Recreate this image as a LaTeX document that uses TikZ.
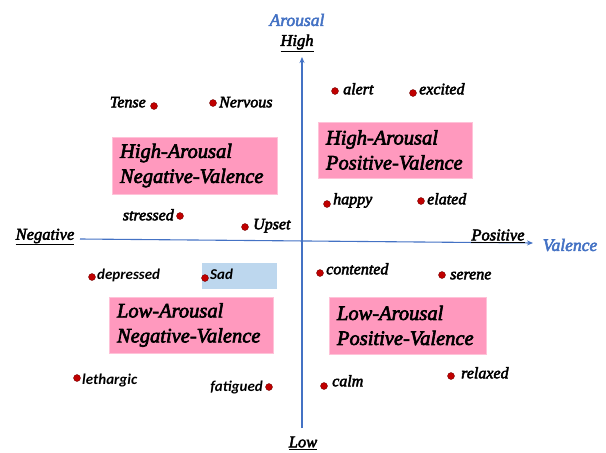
\documentclass[tikz,border=0pt]{standalone}
\usepackage{fontspec}
\setmainfont{Liberation Serif}
\newfontfamily\carlfont{Carlito}
\newcommand\tbishape{\itshape\addfontfeature{FakeBold=3}}
\usetikzlibrary{arrows.meta}
\definecolor{axisblue}{HTML}{4472C4}
\definecolor{quadpink}{RGB}{255,153,190}
\definecolor{sadblue}{HTML}{BDD7EE}
\definecolor{dotred}{HTML}{C00000}
\begin{document}
\begin{tikzpicture}[x=1pt,y=-1pt,
  axis/.style={draw=axisblue, line width=1.1pt, -{Stealth[length=6pt,width=5pt]}},
  emo/.style={circle, fill=dotred, draw=black!60!red, line width=0.3pt, inner sep=0pt, minimum size=7pt},
  lbl/.style={inner sep=0pt, font=\fontsize{16}{18}\selectfont\tbishape},
  lbls/.style={inner sep=0pt, font=\fontsize{15}{17}\selectfont\carlfont\bfseries\itshape},
  axlbl/.style={inner sep=0pt, font=\fontsize{16.5}{18}\selectfont\tbishape},
  axname/.style={inner sep=0pt, text=axisblue, font=\fontsize{17.5}{19}\selectfont\tbishape},
  quad/.style={fill=quadpink, draw=quadpink!60!white, line width=0.6pt, inner xsep=8pt, inner ysep=0pt, align=left,
    font=\fontsize{20.5}{25}\selectfont\tbishape},
]
\useasboundingbox (0,0) rectangle (606,453);

% quadrant boxes
\node[quad, text width=149pt, minimum height=57pt] (hanv) at (194.5,165.5) {High-Arousal\\Negative-Valence};
\node[quad, text width=138pt, minimum height=56pt] (hapv) at (395,150) {High-Arousal\\Positive-Valence};
\node[quad, text width=148pt, minimum height=56pt] (lanv) at (191,325) {Low-Arousal\\Negative-Valence};
\node[quad, text width=141pt, minimum height=57pt] (lapv) at (407.5,325.5) {Low-Arousal\\Positive-Valence};
\node[fill=sadblue, inner sep=0pt, minimum width=75pt, minimum height=26pt] (sadbox) at (239.5,276) {};

% axes
\coordinate (vb) at (302,428);
\coordinate (vt) at (302,57);
\coordinate (hl) at (80,239);
\coordinate (hr) at (533,243);
\draw[axis] (vb) -- (vt);
\draw[axis] (hl) -- (hr);

\node[axname] (arousal) at (297,20) {Arousal};
\node[axlbl] (high) at (297,43) {\underline{High}};
\node[axlbl] (low) at (303,443) {\underline{Low}};
\node[axlbl] (neg) at (45,237) {\underline{Negative}};
\node[axlbl] (pos) at (498,236) {\underline{Positive}};
\node[axname] (valence) at (570,245) {Valence};

% emotions
\node[emo] (dtense) at (154,106) {};
\node[lbl, anchor=mid east] (tense) at (146,105) {Tense};
\node[emo] (dnervous) at (213,103) {};
\node[lbl, anchor=mid west] (nervous) at (219,105) {Nervous};
\node[emo] (dalert) at (335,91) {};
\node[lbl, anchor=mid west] (alert) at (343,92) {alert};
\node[emo] (dexcited) at (413,93) {};
\node[lbl, anchor=mid west] (excited) at (419,92) {excited};
\node[emo] (dhappy) at (327,204) {};
\node[lbl, anchor=mid west] (happy) at (333,202) {happy};
\node[emo] (delated) at (421,201) {};
\node[lbl, anchor=mid west] (elated) at (427,202) {elated};
\node[emo] (dstressed) at (180,216) {};
\node[lbl, anchor=mid east] (stressed) at (174,218) {stressed};
\node[emo] (dupset) at (245,227) {};
\node[lbl, anchor=mid west] (upset) at (253,227) {Upset};
\node[emo] (ddepressed) at (92,277) {};
\node[lbls, anchor=mid west] (depressed) at (97,277) {depressed};
\node[emo] (dsad) at (205,278) {};
\node[lbls, anchor=mid west] (sad) at (210,277) {Sad};
\node[emo] (dcontented) at (320,273) {};
\node[lbl, anchor=mid west] (contented) at (326,272) {contented};
\node[emo] (dserene) at (442,275) {};
\node[lbl, anchor=mid west] (serene) at (450,277) {serene};
\node[emo] (dlethargic) at (77,378) {};
\node[lbls, anchor=mid west] (lethargic) at (82,382) {lethargic};
\node[emo] (dfatigued) at (269,387) {};
\node[lbls, anchor=mid east] (fatigued) at (263,389) {fatigued};
\node[emo] (dcalm) at (324,386) {};
\node[lbl, anchor=mid west] (calm) at (332,384) {calm};
\node[emo] (drelaxed) at (451,376) {};
\node[lbl, anchor=mid west] (relaxed) at (461,376) {relaxed};
\end{tikzpicture}
\end{document}
